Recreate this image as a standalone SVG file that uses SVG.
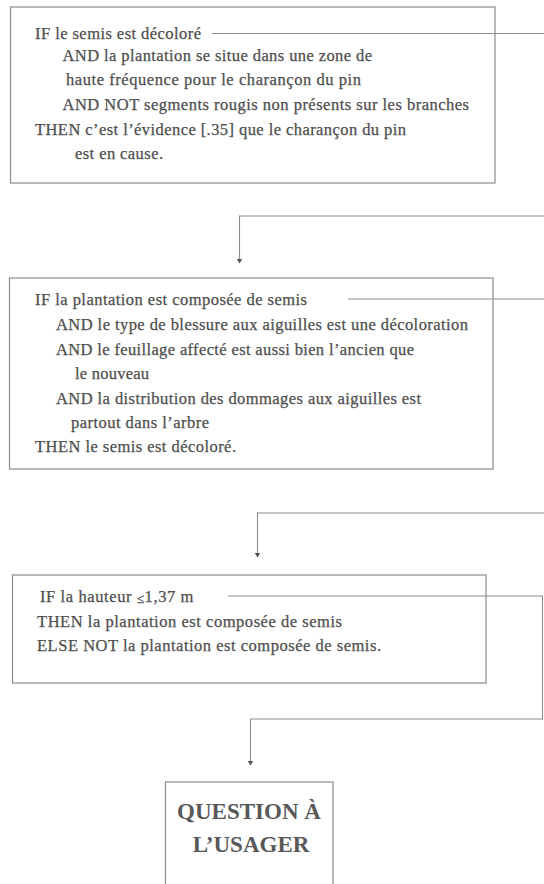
<svg xmlns="http://www.w3.org/2000/svg" width="544" height="884" viewBox="0 0 544 884">
  <style>
    .box { fill: none; stroke: #8c8c8c; stroke-width: 1.2; }
    .t { font-family: "Liberation Serif", "Times New Roman", serif; font-size: 16.5px; fill: #4e4e4e; stroke: #4e4e4e; stroke-width: 0.25; }
    .q { font-family: "Liberation Serif", "Times New Roman", serif; font-size: 23px; font-weight: bold; fill: #585858; text-anchor: middle; }
    .wire { fill: none; stroke: #8c8c8c; stroke-width: 1.1; }
  </style>
  <defs>
    <marker id="arrow" markerWidth="5" markerHeight="6" refX="4.5" refY="3" orient="auto" markerUnits="userSpaceOnUse">
      <path d="M0,0 L5,3 L0,6 z" fill="#555"/>
    </marker>
  </defs>
  <rect width="544" height="884" fill="#ffffff"/>

  <!-- Rule 1: weevil evidence -->
  <g id="rule-charancon">
    <rect class="box" x="10.5" y="7" width="484.5" height="176"/>
    <text class="t" x="35" y="38.5" textLength="166" lengthAdjust="spacing">IF le semis est décoloré</text>
    <text class="t" x="62.5" y="61" textLength="309.5" lengthAdjust="spacing">AND la plantation se situe dans une zone de</text>
    <text class="t" x="66" y="85" textLength="295" lengthAdjust="spacing">haute fréquence pour le charançon du pin</text>
    <text class="t" x="62.5" y="109.5" textLength="406.5" lengthAdjust="spacing">AND NOT segments rougis non présents sur les branches</text>
    <text class="t" x="35" y="134.5" textLength="371" lengthAdjust="spacing">THEN c’est  l’évidence [.35] que le charançon du pin</text>
    <text class="t" x="75" y="158.5" textLength="88" lengthAdjust="spacing">est en cause.</text>
  </g>

  <!-- Rule 2: discoloured seedling -->
  <g id="rule-semis-decolore">
    <rect class="box" x="9.5" y="278" width="483.5" height="191"/>
    <text class="t" x="35" y="305" textLength="272" lengthAdjust="spacing">IF la plantation est composée de semis</text>
    <text class="t" x="56" y="329.5" textLength="412" lengthAdjust="spacing">AND le type de blessure aux aiguilles est une décoloration</text>
    <text class="t" x="56" y="354.5" textLength="358" lengthAdjust="spacing">AND le feuillage affecté est aussi bien l’ancien que</text>
    <text class="t" x="75" y="379" textLength="74" lengthAdjust="spacing">le nouveau</text>
    <text class="t" x="56" y="403.5" textLength="365" lengthAdjust="spacing">AND la distribution des dommages aux aiguilles est</text>
    <text class="t" x="71" y="427.5" textLength="138" lengthAdjust="spacing">partout dans l’arbre</text>
    <text class="t" x="35" y="451.5" textLength="201" lengthAdjust="spacing">THEN le semis est décoloré.</text>
  </g>

  <!-- Rule 3: plantation height -->
  <g id="rule-hauteur">
    <rect class="box" x="12.5" y="575" width="473.5" height="108"/>
    <text class="t" x="40" y="602" letter-spacing="0.6">IF la hauteur <tspan font-size="13" dy="1">≤</tspan><tspan dy="-1">1,37 m</tspan></text>
    <text class="t" x="37" y="627" textLength="305" lengthAdjust="spacing">THEN la plantation est composée de semis</text>
    <text class="t" x="37" y="651" textLength="344" lengthAdjust="spacing">ELSE NOT la plantation est composée de semis.</text>
  </g>

  <!-- Terminal: ask the user -->
  <g id="question-usager">
    <rect class="box" x="165.5" y="782" width="167.5" height="110"/>
    <text class="q" x="249" y="819">QUESTION À</text>
    <text class="q" x="251" y="852">L’USAGER</text>
  </g>

  <!-- Connectors -->
  <g id="connectors">
    <path class="wire" d="M212,33.5 H550"/>
    <path class="wire" d="M550,216 H239.5 V263" marker-end="url(#arrow)"/>
    <path class="wire" d="M348,299 H550"/>
    <path class="wire" d="M550,513 H257.5 V557" marker-end="url(#arrow)"/>
    <path class="wire" d="M228,596 H542.5 V719 H250.5 V765" marker-end="url(#arrow)"/>
  </g>
</svg>
